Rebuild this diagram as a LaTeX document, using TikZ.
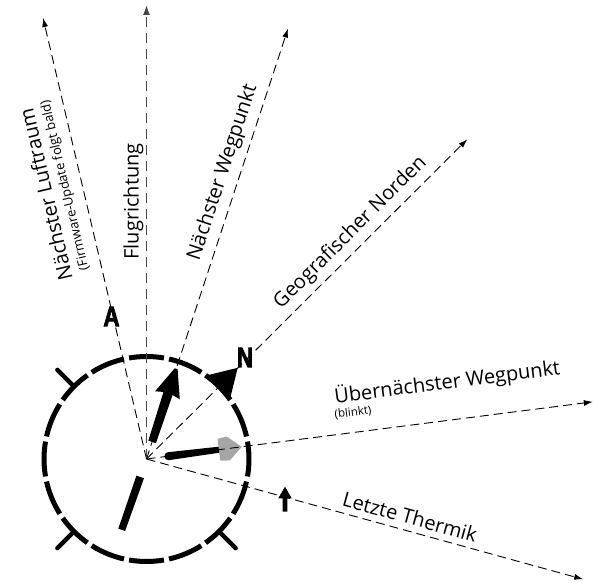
\documentclass[tikz,border=0pt]{standalone}
\usepackage{fontspec}
\setmainfont{Open Sans}
\newfontfamily\heavyfont{Liberation Sans}[BoldFeatures={FakeBold=3}]
\usetikzlibrary{arrows.meta,calc}
\begin{document}
\begin{tikzpicture}[x=1pt,y=1pt,
  conn/.style={draw=black, line width=0.9pt, dash pattern=on 9pt off 5pt, -{Latex[length=9pt,width=6pt]}},
  flugconn/.style={draw=black!72, line width=1.4pt, dash pattern=on 10pt off 6pt, -{Latex[length=10pt,width=7pt]}},
  lbl/.style={font=\fontsize{20}{24}\selectfont, inner sep=0pt, anchor=base},
  sublbl/.style={font=\fontsize{11.5}{14}\selectfont, inner sep=0pt, anchor=base},
  letter/.style={font=\heavyfont\bfseries\fontsize{28}{28}\selectfont, inner sep=0pt, xscale=0.8},
  ring/.style={line width=5pt},
  tickmark/.style={line width=4.5pt, line cap=round},
]
\useasboundingbox (0,0) rectangle (600,583);
\coordinate (C) at (146.5,124);
\coordinate (tL) at ($(C)+(103.2:453)$);
\coordinate (tF) at ($(C)+(90:454)$);
\coordinate (tW) at ($(C)+(71.8:453)$);
\coordinate (tN) at ($(C)+(44.9:453)$);
\coordinate (tU) at ($(C)+(7.3:450)$);
\coordinate (tT) at ($(C)+(-15.4:453)$);

% compass ring
\foreach \a in {0,22.5,...,337.5}
  \draw[ring] ($(C)+({\a-9.8}:102.5)$) arc[start angle={\a-9.8}, end angle={\a+9.8}, radius=102.5];
\foreach \a in {135,225,315}
  \draw[tickmark] ($(C)+(\a:105)$) -- ($(C)+(\a:126)$);
% north triangle
\fill ($(C)+(35.3:102)$) -- ($(C)+(45:129)$) -- ($(C)+(54.7:102)$) -- cycle;

% bearing to next waypoint
\fill[shift={(C)}, rotate=71.8] (18,-4) -- (69,-4.8) -- (67,-13) -- (95,-1.5) -- (95,1.5) -- (67,13) -- (69,4.8) -- (18,4) -- cycle;
% bearing to the waypoint after next
\fill[shift={(C)}, rotate=7.3] (22,4) arc[start angle=90, end angle=270, radius=4] -- (74,-3) -- (74,3) -- cycle;
\fill[black!35, shift={(C)}, rotate=7.3] (73,11) -- (82.5,12) -- (96,0) -- (82.5,-12) -- (73,-11) -- cycle;
% bar
\fill[shift={(C)}, rotate=250.7] (19,-4) -- (75,-3.6) -- (75,3.6) -- (19,4) -- cycle;
% small thermal arrow
\fill (282.7,71.3) -- (287.3,71.3) -- (287.3,84.7) -- (291.7,84.7) -- (285,96.3) -- (278.3,84.7) -- (282.7,84.7) -- cycle;

% connectors
\draw[conn] (C) -- (tL);
\draw[flugconn] (C) -- (tF);
\draw[conn] (C) -- (tW);
\draw[conn] (C) -- (tN);
\draw[conn] (C) -- (tU);
\draw[conn] (C) -- (tT);

% letters
\node[letter] (lA) at (111.5,266.5) {A};
\node[letter] (lN) at (245,225.5) {N};

% labels
\node[lbl, rotate=103.2] (luft) at (52.8,390) {Nächster Luftraum};
\node[sublbl, font=\fontsize{13}{15}\selectfont, rotate=103.2] (luftsub) at (68.7,398.5) {(Firmware-Update folgt bald)};
\node[lbl, rotate=90] (flug) at (138.5,381.5) {Flugrichtung};
\node[lbl, rotate=71.8] (weg) at (227.9,408.9) {Nächster Wegpunkt};
\node[lbl, rotate=44.9] (nord) at (354.2,346.5) {Geografischer Norden};
\node[lbl, rotate=7.3] (ueber) at (448,194) {Übernächster Wegpunkt};
\node[sublbl, rotate=7.3] (blinkt) at (353.5,167) {(blinkt)};
\node[lbl, rotate=-15.4] (therm) at (408,59) {Letzte Thermik};
\end{tikzpicture}
\end{document}
